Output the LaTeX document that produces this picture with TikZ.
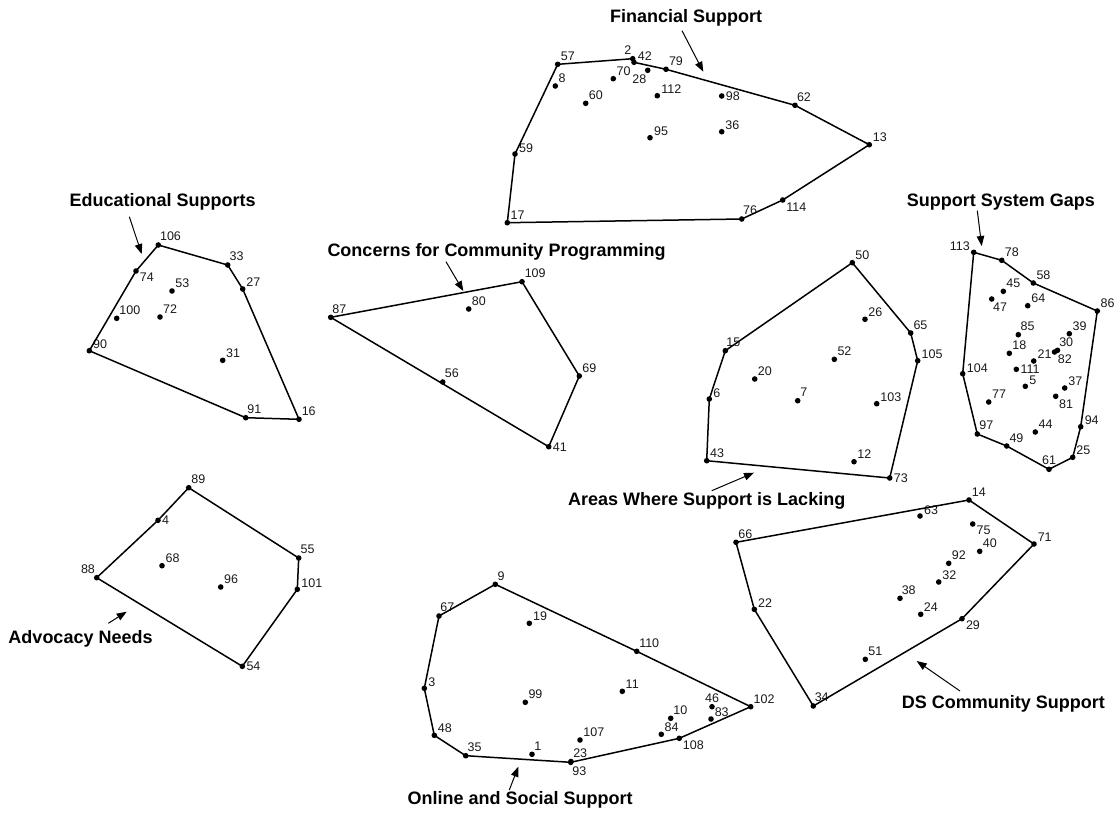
\documentclass[tikz,border=0pt]{standalone}
\usepackage{fontspec}
\setmainfont{Liberation Sans}
\usetikzlibrary{arrows.meta}
\tikzset{
  dot/.style={circle,fill=black,inner sep=0pt,minimum size=5.6pt},
  lbl/.style={inner sep=0.7pt,font=\fontsize{12.5}{14}\selectfont,text=black!90},
  hull/.style={line width=1.5pt,line join=round},
  ttl/.style={inner sep=0pt,font=\bfseries\fontsize{18}{20}\selectfont},
  arr/.style={line width=1pt,-{Triangle[length=10pt,width=7.5pt]}}
}
\newcommand\pnt[4]{\node[dot,label={[lbl,label distance=0.3pt]#4:#1}] (p#1) at (#2,#3) {};}
\begin{document}
\begin{tikzpicture}[x=1pt,y=-1pt]
\useasboundingbox (0,0) rectangle (1120,812);
% ---------------- Financial Support
\pnt{57}{557.7}{64.3}{45}
\pnt{2}{632.7}{58.7}{100}
\pnt{42}{634}{62.3}{22}
\pnt{79}{666}{69.3}{50}
\pnt{28}{647.7}{70.3}{-100}
\pnt{70}{613.3}{78.7}{40}
\pnt{8}{555.3}{86}{45}
\pnt{60}{585.7}{103.3}{45}
\pnt{112}{657.3}{95.7}{20}
\pnt{95}{650}{137.7}{15}
\pnt{59}{515}{154}{10}
\pnt{17}{507.3}{222.7}{40}
\pnt{98}{721.7}{96}{0}
\pnt{36}{721.7}{131.7}{30}
\pnt{62}{795}{105.3}{70}
\pnt{13}{869.3}{144.7}{35}
\pnt{114}{782.7}{200}{-30}
\pnt{76}{741.7}{219}{80}
\draw[hull] (p17.center)--(p59.center)--(p57.center)--(p2.center)--(p42.center)--(p79.center)--(p62.center)--(p13.center)--(p114.center)--(p76.center)--cycle;
% ---------------- Educational Supports
\pnt{106}{158.3}{245}{75}
\pnt{33}{227.7}{265}{70}
\pnt{27}{242.7}{289}{35}
\pnt{74}{136}{271}{-25}
\pnt{53}{172}{291}{40}
\pnt{100}{116.7}{318.3}{55}
\pnt{72}{160}{317}{45}
\pnt{90}{89.3}{350.7}{25}
\pnt{31}{222.7}{360.3}{40}
\pnt{91}{245.7}{417.7}{75}
\pnt{16}{299}{419.3}{55}
\draw[hull] (p90.center)--(p74.center)--(p106.center)--(p33.center)--(p27.center)--(p16.center)--(p91.center)--cycle;
% ---------------- Concerns for Community Programming
\pnt{87}{330.7}{317.3}{75}
\pnt{109}{522}{281.7}{55}
\pnt{80}{468.7}{309}{45}
\pnt{69}{579.3}{376}{50}
\pnt{56}{442.7}{382}{65}
\pnt{41}{548.7}{446.7}{0}
\draw[hull] (p87.center)--(p109.center)--(p69.center)--(p41.center)--cycle;
% ---------------- Areas Where Support is Lacking
\pnt{50}{852.3}{262.7}{50}
\pnt{26}{865}{319.3}{40}
\pnt{65}{910.7}{333}{55}
\pnt{105}{917.7}{360.7}{20}
\pnt{15}{725.3}{350.7}{85}
\pnt{52}{834.3}{359.3}{45}
\pnt{20}{754.7}{379}{45}
\pnt{6}{709.3}{399}{10}
\pnt{7}{797.7}{400.7}{60}
\pnt{103}{876.7}{403.7}{30}
\pnt{43}{706.7}{460.7}{40}
\pnt{12}{854}{461.7}{40}
\pnt{73}{889.7}{478}{0}
\draw[hull] (p43.center)--(p6.center)--(p15.center)--(p50.center)--(p65.center)--(p105.center)--(p73.center)--cycle;
% ---------------- Support System Gaps
\pnt{113}{973.7}{252.3}{160}
\pnt{78}{1001.7}{260.3}{45}
\pnt{58}{1033.3}{283}{45}
\pnt{45}{1003.3}{291.3}{50}
\pnt{47}{991.7}{299}{-80}
\pnt{64}{1027.7}{305.7}{35}
\pnt{86}{1097.3}{311}{40}
\pnt{85}{1018.3}{334.7}{65}
\pnt{39}{1069.3}{333.7}{40}
\pnt{30}{1057.5}{350.3}{75}
\pnt{82}{1054.5}{352}{-40}
\pnt{18}{1009.3}{353.3}{50}
\pnt{21}{1033.7}{361}{20}
\pnt{111}{1016.3}{369.3}{0}
\pnt{104}{962.7}{373.7}{10}
\pnt{5}{1025.3}{386.3}{10}
\pnt{37}{1064.7}{388}{35}
\pnt{81}{1055.7}{396.3}{-40}
\pnt{77}{988.7}{402}{40}
\pnt{94}{1080.7}{426.7}{15}
\pnt{44}{1035.3}{432}{40}
\pnt{97}{977.3}{434}{70}
\pnt{49}{1006.7}{446}{55}
\pnt{25}{1072.7}{457.3}{30}
\pnt{61}{1049}{469.3}{90}
\draw[hull] (p113.center)--(p78.center)--(p58.center)--(p86.center)--(p94.center)--(p25.center)--(p61.center)--(p49.center)--(p97.center)--(p104.center)--cycle;
% ---------------- Advocacy Needs
\pnt{89}{188.7}{487.7}{55}
\pnt{4}{158}{520.3}{0}
\pnt{55}{298.7}{558}{70}
\pnt{68}{162}{565.7}{35}
\pnt{88}{96.7}{577.7}{105}
\pnt{101}{297.3}{589.3}{15}
\pnt{96}{220.7}{587}{40}
\pnt{54}{242.3}{666.3}{0}
\draw[hull] (p88.center)--(p4.center)--(p89.center)--(p55.center)--(p101.center)--(p54.center)--cycle;
% ---------------- Online and Social Support
\pnt{9}{495.3}{584.3}{65}
\pnt{67}{439}{616}{80}
\pnt{19}{529.3}{623.3}{30}
\pnt{3}{424.3}{688.3}{10}
\pnt{99}{525.3}{702.3}{45}
\pnt{48}{434.3}{735.3}{35}
\pnt{107}{580}{740}{40}
\pnt{35}{465.7}{755.7}{70}
\pnt{1}{532}{754.3}{65}
\pnt{23}{571}{761.5}{65}
\pnt{93}{570.7}{762.3}{-75}
\pnt{110}{636.7}{651.3}{60}
\pnt{11}{622.3}{691.3}{40}
\pnt{46}{712}{706.7}{90}
\pnt{102}{750.7}{706.7}{50}
\pnt{10}{670.7}{718.3}{55}
\pnt{83}{711}{719}{30}
\pnt{84}{661.3}{734.3}{40}
\pnt{108}{679.3}{738.3}{-35}
\draw[hull] (p35.center)--(p48.center)--(p3.center)--(p67.center)--(p9.center)--(p110.center)--(p102.center)--(p108.center)--(p93.center)--cycle;
% ---------------- DS Community Support
\pnt{14}{969}{500}{55}
\pnt{63}{920}{516}{5}
\pnt{75}{972.7}{524}{-20}
\pnt{66}{736}{542.3}{65}
\pnt{71}{1034}{544}{30}
\pnt{40}{979.7}{551.3}{45}
\pnt{92}{948.7}{563.3}{45}
\pnt{32}{938.7}{582}{30}
\pnt{38}{900}{598.3}{75}
\pnt{22}{754.3}{609.3}{25}
\pnt{24}{920.7}{614.3}{45}
\pnt{29}{962}{618.7}{-20}
\pnt{51}{865.3}{659.3}{50}
\pnt{34}{813.3}{706}{80}
\draw[hull] (p66.center)--(p14.center)--(p71.center)--(p29.center)--(p34.center)--(p22.center)--cycle;
% ---------------- titles
\node[ttl,anchor=base west] (tFin) at (610,22.7) {Financial Support};
\node[ttl,anchor=base west] (tEdu) at (69.3,206.7) {Educational Supports};
\node[ttl,anchor=base west] (tCon) at (327.3,256) {Concerns for Community Programming};
\node[ttl,anchor=base west] (tAre) at (568,505.5) {Areas Where Support is Lacking};
\node[ttl,anchor=base west] (tGap) at (906.7,206) {Support System Gaps};
\node[ttl,anchor=base west] (tAdv) at (8.3,643.3) {Advocacy Needs};
\node[ttl,anchor=base west] (tOnl) at (407.3,804.5) {Online and Social Support};
\node[ttl,anchor=base west] (tDS) at (901.7,708) {DS Community Support};
% ---------------- arrows
\coordinate (aFin1) at (682,30.7);   \coordinate (aFin2) at (703.3,71.7);
\coordinate (aEdu1) at (129.3,216.7); \coordinate (aEdu2) at (141.7,254);
\coordinate (aCon1) at (446,261.7);  \coordinate (aCon2) at (463.3,291);
\coordinate (aAre1) at (711.7,490.7); \coordinate (aAre2) at (754,472.7);
\coordinate (aGap1) at (977.3,210.7); \coordinate (aGap2) at (981.7,246);
\coordinate (aAdv1) at (108.3,623.3); \coordinate (aAdv2) at (126.7,611.7);
\coordinate (aOnl1) at (509.3,790);  \coordinate (aOnl2) at (518.3,766.7);
\coordinate (aDS1) at (960,691);     \coordinate (aDS2) at (916.7,661);
\draw[arr] (aFin1)--(aFin2);
\draw[arr] (aEdu1)--(aEdu2);
\draw[arr] (aCon1)--(aCon2);
\draw[arr] (aAre1)--(aAre2);
\draw[arr] (aGap1)--(aGap2);
\draw[arr] (aAdv1)--(aAdv2);
\draw[arr] (aOnl1)--(aOnl2);
\draw[arr] (aDS1)--(aDS2);
\end{tikzpicture}
\end{document}
